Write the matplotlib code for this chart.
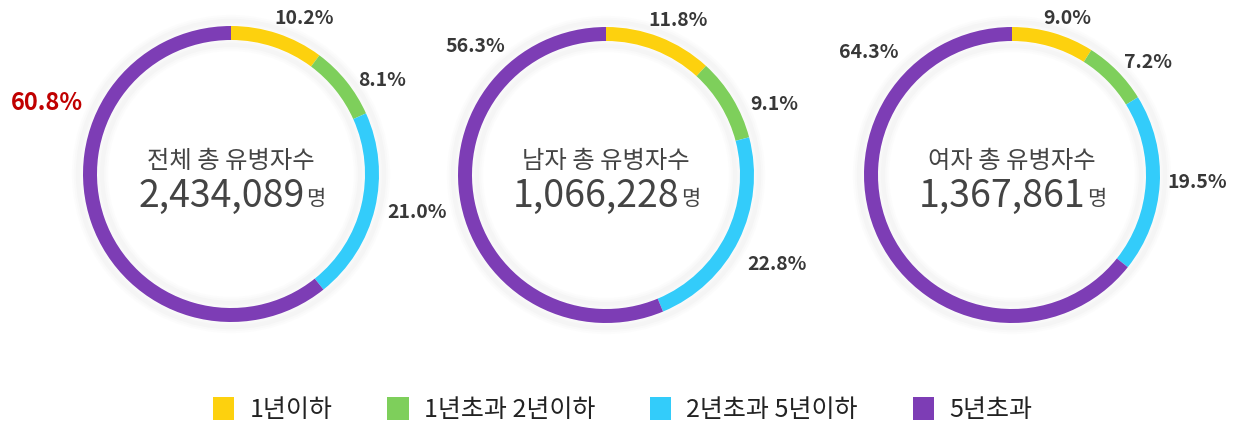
import numpy as np
import matplotlib.pyplot as plt
from matplotlib.patches import Patch, Circle

plt.rcParams['font.family'] = ['Noto Sans CJK KR', 'DejaVu Sans']

W, H = 1245, 426

categories = ['1년이하', '1년초과 2년이하', '2년초과 5년이하', '5년초과']
colors = ['#FDD10E', '#7ECF5B', '#33CCFA', '#7D3DB5']

titles = ['전체 총 유병자수', '남자 총 유병자수', '여자 총 유병자수']
totals = ['2,434,089', '1,066,228', '1,367,861']
shares = [
    [10.2, 8.1, 21.0, 60.8],
    [11.8, 9.1, 22.8, 56.3],
    [9.0, 7.2, 19.5, 64.3],
]

# layout (pixels)
centers = [(231, 174), (606, 175), (1012, 175)]
radius = 148
ring = 14
# label centres for each value, per donut
label_pos = [
    [(304, 18), (382, 80), (417, 213), (47, 103)],
    [(678, 21), (774, 104), (777, 264), (475, 47)],
    [(1067, 18), (1148, 63), (1197, 183), (869, 52)],
]

fig = plt.figure(figsize=(W / 100, H / 100), dpi=100)
ax = fig.add_axes([0, 0, 1, 1])

for i in range(3):
    cx, cy = centers[i]
    Y = H - cy
    # soft shadow
    for k, a in enumerate([0.03, 0.025, 0.02]):
        ax.add_patch(Circle((cx, Y), radius + 3 + 2 * k, facecolor='none',
                            edgecolor='#888888', lw=6, alpha=a, zorder=1))
        ax.add_patch(Circle((cx, Y), radius - ring - 3 - 2 * k, facecolor='none',
                            edgecolor='#888888', lw=6, alpha=a, zorder=1))
    ax.pie(shares[i], colors=colors, startangle=90, counterclock=False,
           radius=radius, center=(cx, Y), frame=True,
           wedgeprops=dict(width=ring, edgecolor='none', zorder=2))

    for j, v in enumerate(shares[i]):
        lx, ly = label_pos[i][j]
        if i == 0 and j == 3:
            ax.text(lx, H - ly, f'{v:.1f}%', ha='center', va='center',
                    fontsize=17, color='#C00000', fontweight='bold')
        else:
            ax.text(lx, H - ly, f'{v:.1f}%', ha='center', va='center',
                    fontsize=14, color='#383838', fontweight='bold')

    ax.text(cx, H - 161, titles[i], ha='center', va='center',
            fontsize=17.5, color='#444444')

ax.set_xlim(0, W)
ax.set_ylim(0, H)
ax.set_aspect('equal')
ax.axis('off')

# total number + unit, centred together
fig.canvas.draw()
r = fig.canvas.get_renderer()
for i in range(3):
    cx, cy = centers[i]
    t1 = ax.text(0, H - 196, totals[i], ha='left', va='center',
                 fontsize=27, color='#444444')
    t2 = ax.text(0, H - 199, '명', ha='left', va='center',
                 fontsize=15, color='#444444')
    w1 = t1.get_window_extent(r).width
    w2 = t2.get_window_extent(r).width
    x0 = cx - (w1 + w2) / 2
    t1.set_x(x0)
    t2.set_x(x0 + w1 + 1)

handles = [Patch(facecolor=c, edgecolor='none') for c in colors]
ax.legend(handles, categories, loc='center', bbox_to_anchor=(0.5, 1 - 410 / H),
          ncol=4, frameon=False, fontsize=18, handlelength=0.85, handleheight=1.05,
          handletextpad=0.6, columnspacing=2.2, labelcolor='#222222')

fig.savefig('out.png', dpi=100)
